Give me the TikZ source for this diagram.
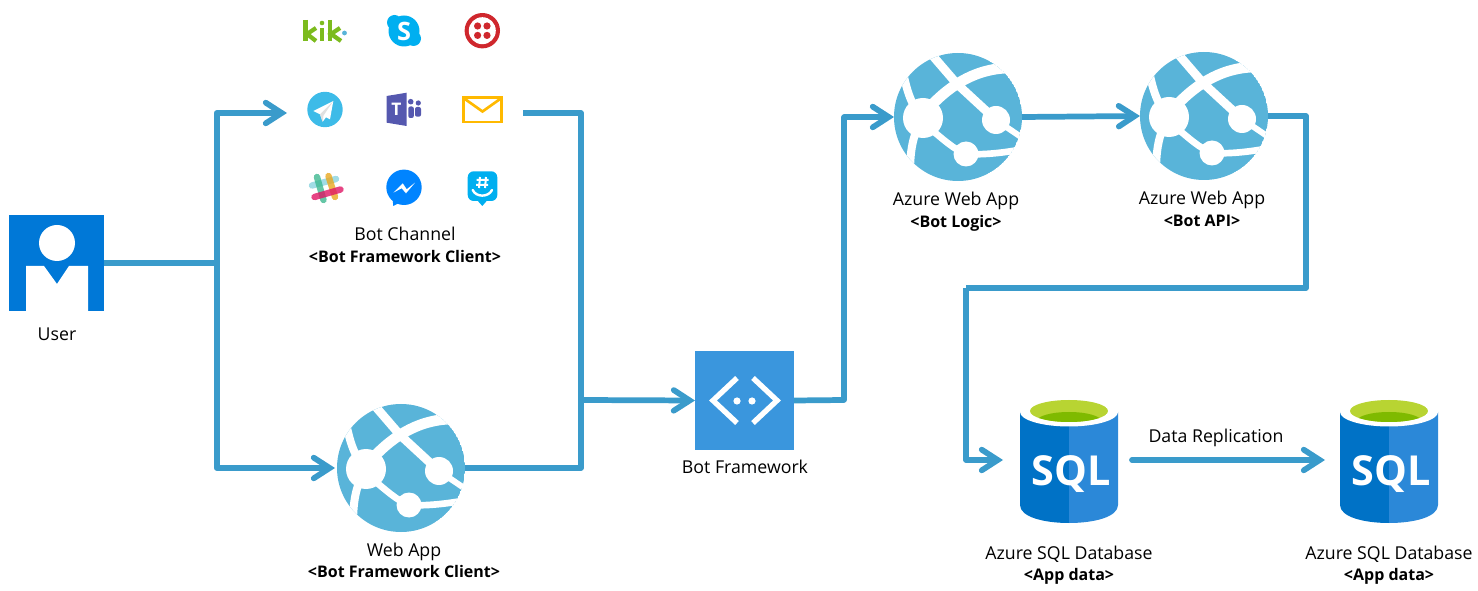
\documentclass[tikz,border=0pt]{standalone}
\usepackage{fontspec}
\setmainfont{Open Sans}
\usetikzlibrary{arrows.meta,calc}
\definecolor{flowc}{HTML}{3A9BCB}
\definecolor{webc}{HTML}{59B4D9}
\definecolor{userc}{HTML}{0078D7}
\definecolor{botc}{HTML}{3A96DD}
\definecolor{sqlL}{HTML}{0072C6}
\definecolor{sqlR}{HTML}{2B88D8}
\definecolor{grnL}{HTML}{B8D432}
\definecolor{grnD}{HTML}{7FBA00}
\definecolor{kikc}{HTML}{7CBB1E}
\definecolor{skypec}{HTML}{00AFF0}
\definecolor{twilc}{HTML}{CF272D}
\definecolor{telec}{HTML}{3DBBE8}
\definecolor{teamsc}{HTML}{5558AF}
\definecolor{mailc}{HTML}{FFB900}
\definecolor{msgc}{HTML}{0084FF}
\definecolor{slackA}{HTML}{89D3DF}
\definecolor{slackB}{HTML}{E01765}
\definecolor{slackC}{HTML}{3EB890}
\definecolor{slackD}{HTML}{E9A820}
\tikzset{
  x=0.75pt,y=-0.75pt,
  flow/.style={draw=flowc,line width=4.3pt,line join=round,
    -{Straight Barb[length=12pt,width=15.5pt,line cap=round,line join=miter]}},
  flowplain/.style={draw=flowc,line width=4.3pt,line join=round},
  ghost/.style={inner sep=0pt,outer sep=0pt,draw=none},
  lab/.style={inner sep=0pt,anchor=base,font=\fontsize{13.3}{15}\selectfont,text=black},
  blab/.style={inner sep=0pt,anchor=base,font=\fontsize{12}{14}\selectfont\bfseries,text=black},
  stripe/.style={draw=white,line cap=round,line join=round},
}
\newcommand{\azureweb}[3]{%
  \node[ghost,circle,minimum size=96pt] (#1) at (#2,#3) {};
  \begin{scope}[shift={(#2,#3)}]
    \begin{scope}
      \clip (0,0) circle (64);
      \fill[webc] (0,0) circle (64);
      \draw[stripe,line width=6.5pt] (-26,-62) -- (-1,-33) -- (38,3);
      \draw[stripe,line width=4.5pt] (38,3) -- (66,22);
      \draw[stripe,line width=8pt] (-30,-8) .. controls (-12,-28) and (14,-48) .. (50,-49) -- (70,-50);
      \draw[stripe,line width=6pt] (-56,-50) .. controls (-52,-30) and (-48,-12) .. (-35,1) .. controls (-44,15) and (-48,30) .. (-48,56);
      \draw[stripe,line width=5pt] (-30,10) .. controls (-15,22) and (-5,32) .. (8,37) .. controls (25,38) and (45,36) .. (66,32);
      \fill[white] (-35,1) circle (20);
      \fill[white] (38,3) circle (14);
      \fill[white] (8,37) circle (12.5);
    \end{scope}
  \end{scope}}
\newcommand{\sqlicon}[3]{%
  \node[ghost,minimum width=73.5pt,minimum height=94.5pt] (#1) at (#2,#3) {};
  \begin{scope}[shift={(#2,#3)}]
    \fill[sqlL] (-49,-48) -- (-49,45) .. controls (-49,57) and (-25,63) .. (0,63) -- (0,-48) -- cycle;
    \fill[sqlR] (49,-48) -- (49,45) .. controls (49,57) and (25,63) .. (0,63) -- (0,-48) -- cycle;
    \fill[white] (0,-48) ellipse [x radius=49,y radius=14.5];
    \begin{scope}
      \clip (0,-49) ellipse [x radius=39,y radius=11];
      \fill[grnL] (0,-49) ellipse [x radius=39,y radius=11];
      \fill[grnD] (0,-39) ellipse [x radius=32,y radius=9];
    \end{scope}
    \node[anchor=base,inner sep=0pt,text=white,font=\fontsize{31}{31}\selectfont\bfseries] at (2,25) {SQL};
  \end{scope}}
\begin{document}
\begin{tikzpicture}
\useasboundingbox (0,0) rectangle (1478,591);
% anchor nodes
\node[ghost,minimum width=71.25pt,minimum height=72pt] (user) at (56.5,263) {};
\node[ghost,minimum width=177pt,minimum height=140pt] (channels) at (405,113) {};
\node[ghost,minimum width=74.25pt,minimum height=74.25pt] (bot) at (744.5,400.5) {};
\azureweb{webapp}{401}{468}
\azureweb{botlogic}{958}{117}
\azureweb{botapi}{1204}{116}
\sqlicon{sqlA}{1069}{460}
\sqlicon{sqlB}{1389}{460}
\coordinate (splitU) at (216.7,263);
\coordinate (mergeR) at (581,400);
\coordinate (upB) at (844,400);
\coordinate (rightA) at (1306,288);
\coordinate (downA) at (966,288);
% connectors
\draw[flowplain] (user.east) -- (splitU);
\draw[flow] (splitU) |- (channels.west);
\draw[flow,shorten >=1.5pt] (splitU) |- (webapp.west);
\draw[flowplain] (channels.east) -| (mergeR);
\draw[flowplain] (webapp.east) -| (mergeR);
\draw[flow] (mergeR) -- (bot.west);
\draw[flow] (bot.east) -- (upB) |- (botlogic.west);
\draw[flow] (botlogic.east) -- (botapi.west);
\draw[flowplain] (botapi.east) -| (rightA) -- (downA);
\draw[flow,shorten >=12.75pt] (downA) |- (sqlA.west);
\draw[flow,line cap=round,shorten <=10.5pt,shorten >=11.25pt] (sqlA.east) -- (sqlB.west);
% user
\fill[userc] (9,215) rectangle (104,311);
\fill[white] (57,243) circle (18);
\fill[white] (26,311) -- (26,266) -- (44,266) -- (57,284) -- (69,266) -- (88,266) -- (88,311) -- cycle;
% bot framework
\fill[botc] (695,351) rectangle (794,450);
\draw[white,line width=4pt,line join=miter] (737,378) -- (713,400.5) -- (737,423);
\draw[white,line width=4pt,line join=miter] (753,378) -- (777,400.5) -- (753,423);
\fill[white] (737,401) circle (3.6) (752,401) circle (3.6);
% kik
\begin{scope}[draw=kikc,line width=3.2pt]
  \draw (305.5,20) -- (305.5,41);
  \draw (316,28) -- (307,34) -- (316,41);
  \draw (322,28) -- (322,41);
  \fill[kikc] (322,23) circle (2.3);
  \draw (330,20) -- (330,41);
  \draw (340,28) -- (331,34) -- (341,41);
\end{scope}
\fill[webc] (344.5,33) circle (2.4);
% skype
\fill[skypec] (404,31) circle (15.5) (394.5,22.5) circle (7.5) (413.5,38.5) circle (7.5);
\node[inner sep=0pt,text=white,font=\fontsize{19}{19}\selectfont\bfseries] at (404,31) {S};
% twilio
\fill[twilc] (482.3,30.7) circle (17.7);
\fill[white] (482.3,30.7) circle (13.5);
\fill[twilc] (477.6,26) circle (3.6) (487,26) circle (3.6) (477.6,35.4) circle (3.6) (487,35.4) circle (3.6);
% telegram
\fill[telec] (325,109.5) circle (17.7);
\fill[white] (333.3,101) -- (313.3,111) -- (320,114.3) -- (322.7,121.7) -- (326,117.3) -- (330,119.3) -- cycle;
\fill[black!12] (333.3,101) -- (320,114.3) -- (322.7,121.7) -- (323.5,115.5) -- cycle;
% teams
\fill[teamsc] (386.7,96) -- (406.7,92.7) -- (406.7,126) -- (386.7,122.7) -- cycle;
\node[inner sep=0pt,text=white,font=\fontsize{13}{13}\selectfont\bfseries] at (396.5,109) {T};
\fill[teamsc] (410.7,101.7) circle (2.8) (418.3,103) circle (2.6);
\fill[teamsc,rounded corners=1.5pt] (408.3,106.5) rectangle (413.8,118);
\fill[teamsc,rounded corners=1.5pt] (415,107) rectangle (421,116.7);
% mail
\draw[mailc,line width=2pt] (463.5,97.5) rectangle (501.5,122);
\draw[mailc,line width=2pt] (463.5,98) -- (482.5,111.5) -- (501.5,98);
% slack
\begin{scope}[line width=4.8pt,line cap=round,opacity=.8]
  \draw[slackA] (312,185.5) -- (336,179);
  \draw[slackD] (328.5,176) -- (335,197);
  \draw[slackC] (317,177) -- (323.5,200);
  \draw[slackB] (314.5,197) -- (340.5,189.5);
\end{scope}
% messenger
\fill[msgc] (404,187.3) circle (17.7);
\fill[msgc] (392.5,198) -- (393.3,206) -- (402,201.5) -- cycle;
\fill[white] (393.3,192.7) -- (402.7,183.3) -- (406.7,189.3) -- (415,182.7) -- (406,193.3) -- (401.7,188.3) -- cycle;
% groupme
\fill[skypec,rounded corners=4.5pt] (467.7,171.3) rectangle (497.3,201);
\fill[skypec] (477,200) -- (482.3,206) -- (487.5,200) -- cycle;
\draw[white,line width=1.5pt] (480,177) -- (479,188) (486,177) -- (485,188) (476.5,180) -- (488.5,180) (476,185) -- (488,185);
\draw[white,line width=1.8pt,line cap=round] (472.7,190) .. controls (476,197.5) and (488.5,197.5) .. (492,190);
% labels
\node[lab] (userLab) at (57,341) {User};
\node[lab] (chanLab) at (405,241) {Bot Channel};
\node[blab] (chanSub) at (405,262.5) {<Bot Framework Client>};
\node[lab] (webLab) at (404,556) {Web App};
\node[blab] (webSub) at (404,577.5) {<Bot Framework Client>};
\node[lab] (botLab) at (745,474) {Bot Framework};
\node[lab] (logicLab) at (956,206) {Azure Web App};
\node[blab] (logicSub) at (956,227.5) {<Bot Logic>};
\node[lab] (apiLab) at (1202,205) {Azure Web App};
\node[blab] (apiSub) at (1202,226.5) {<Bot API>};
\node[lab] (sqlALab) at (1069,559) {Azure SQL Database};
\node[blab] (sqlASub) at (1069,580.5) {<App data>};
\node[lab] (sqlBLab) at (1389,559) {Azure SQL Database};
\node[blab] (sqlBSub) at (1389,580.5) {<App data>};
\node[lab] (replLab) at (1216,443) {Data Replication};
\end{tikzpicture}
\end{document}
